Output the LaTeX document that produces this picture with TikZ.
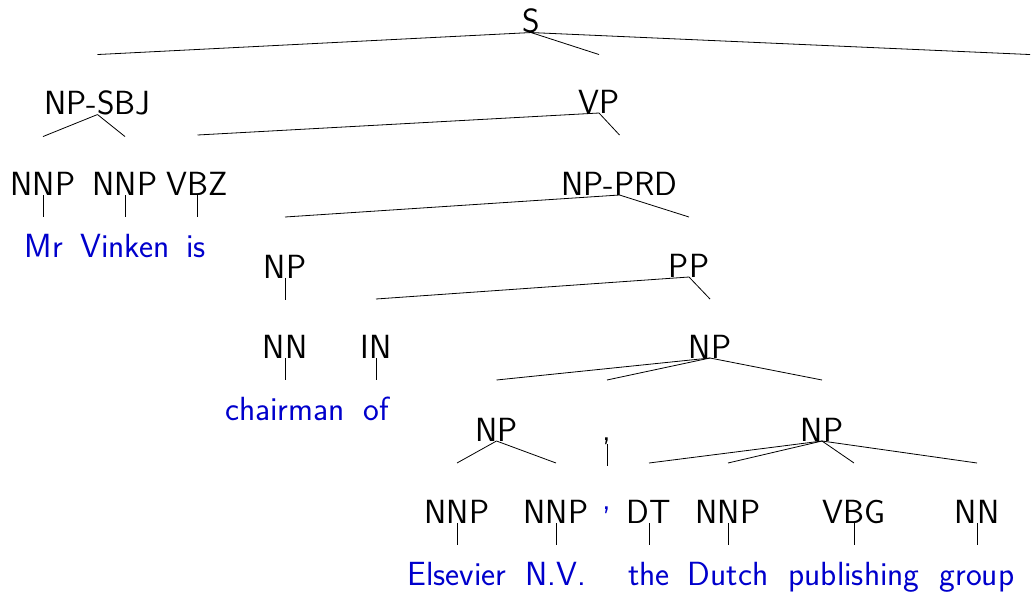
\documentclass[tikz,border=0pt]{standalone}
\usepackage{fontspec}
\usetikzlibrary{calc}
\definecolor{leafblue}{RGB}{0,0,204}
\tikzset{
  lbl/.style={anchor=base, inner sep=0pt, outer sep=0pt,
    font=\sffamily\fontsize{33.5pt}{40pt}\selectfont, text=black},
  word/.style={lbl, text=leafblue},
  branchline/.style={draw=black, line width=0.8pt}
}
% a branch: from the bottom of a parent to a point 22pt down, above the child
\newcommand\treebranch[2]{\draw[branchline] (#1.south) -- ([yshift=-22pt]#1.south -| #2.south);}
\begin{document}
\begin{tikzpicture}[x=1pt,y=-1pt]
\useasboundingbox (0,0) rectangle (1031,592);

% phrase labels
\node[lbl] (S) at (531,32) {S};
\node[lbl] (npsbj) at (97.5,114) {NP-SBJ};
\node[lbl] (vp) at (599,113) {VP};
\coordinate (dotend) at (1030,114);

\node[lbl] (nnp1) at (43,195) {NNP};
\node[lbl] (nnp2) at (125,195) {NNP};
\node[lbl] (vbz) at (197.5,195) {VBZ};
\node[lbl] (npprd) at (619.5,195) {NP-PRD};

\node[lbl] (npch) at (285,278) {NP};
\node[lbl] (pp) at (689,277) {PP};

\node[lbl] (nn1) at (285,358) {NN};
\node[lbl] (in) at (376,358) {IN};
\node[lbl] (npbig) at (710,358) {NP};

\node[lbl] (npels) at (496.5,441) {NP};
\node[lbl] (cm) at (607,440) {,};
\node[lbl] (npdut) at (822,441) {NP};

\node[lbl] (nnp3) at (457,523) {NNP};
\node[lbl] (nnp4) at (556,523) {NNP};
\node[lbl] (dt) at (649,523) {DT};
\node[lbl] (nnp5) at (728,523) {NNP};
\node[lbl] (vbg) at (854,523) {VBG};
\node[lbl] (nn2) at (977,523) {NN};

% words
\node[word] (wmr) at (44,257) {Mr};
\node[word] (wvinken) at (125,257) {Vinken};
\node[word] (wis) at (196,257) {is};
\node[word] (wchair) at (285,420) {chairman};
\node[word] (wof) at (376,420) {of};
\node[word] (wcomma) at (607,509) {,};
\node[word] (wels) at (457,585) {Elsevier};
\node[word] (wnv) at (556,585) {N.V.};
\node[word] (wthe) at (649,585) {the};
\node[word] (wdutch) at (728,585) {Dutch};
\node[word] (wpub) at (854,585) {publishing};
\node[word] (wgroup) at (977,585) {group};

% branches
\treebranch{S}{npsbj}
\treebranch{S}{vp}
\treebranch{S}{dotend}
\treebranch{npsbj}{nnp1}
\treebranch{npsbj}{nnp2}
\treebranch{vp}{vbz}
\treebranch{vp}{npprd}
\treebranch{npprd}{npch}
\treebranch{npprd}{pp}
\treebranch{pp}{in}
\treebranch{pp}{npbig}
\treebranch{npbig}{npels}
\treebranch{npbig}{cm}
\treebranch{npbig}{npdut}
\treebranch{npels}{nnp3}
\treebranch{npels}{nnp4}
\treebranch{npdut}{dt}
\treebranch{npdut}{nnp5}
\treebranch{npdut}{vbg}
\treebranch{npdut}{nn2}
\treebranch{npch}{nn1}
% preterminal to word
\treebranch{nnp1}{nnp1}
\treebranch{nnp2}{nnp2}
\treebranch{vbz}{vbz}
\treebranch{nn1}{nn1}
\treebranch{in}{in}
\treebranch{cm}{cm}
\treebranch{nnp3}{nnp3}
\treebranch{nnp4}{nnp4}
\treebranch{dt}{dt}
\treebranch{nnp5}{nnp5}
\treebranch{vbg}{vbg}
\treebranch{nn2}{nn2}
\end{tikzpicture}
\end{document}
